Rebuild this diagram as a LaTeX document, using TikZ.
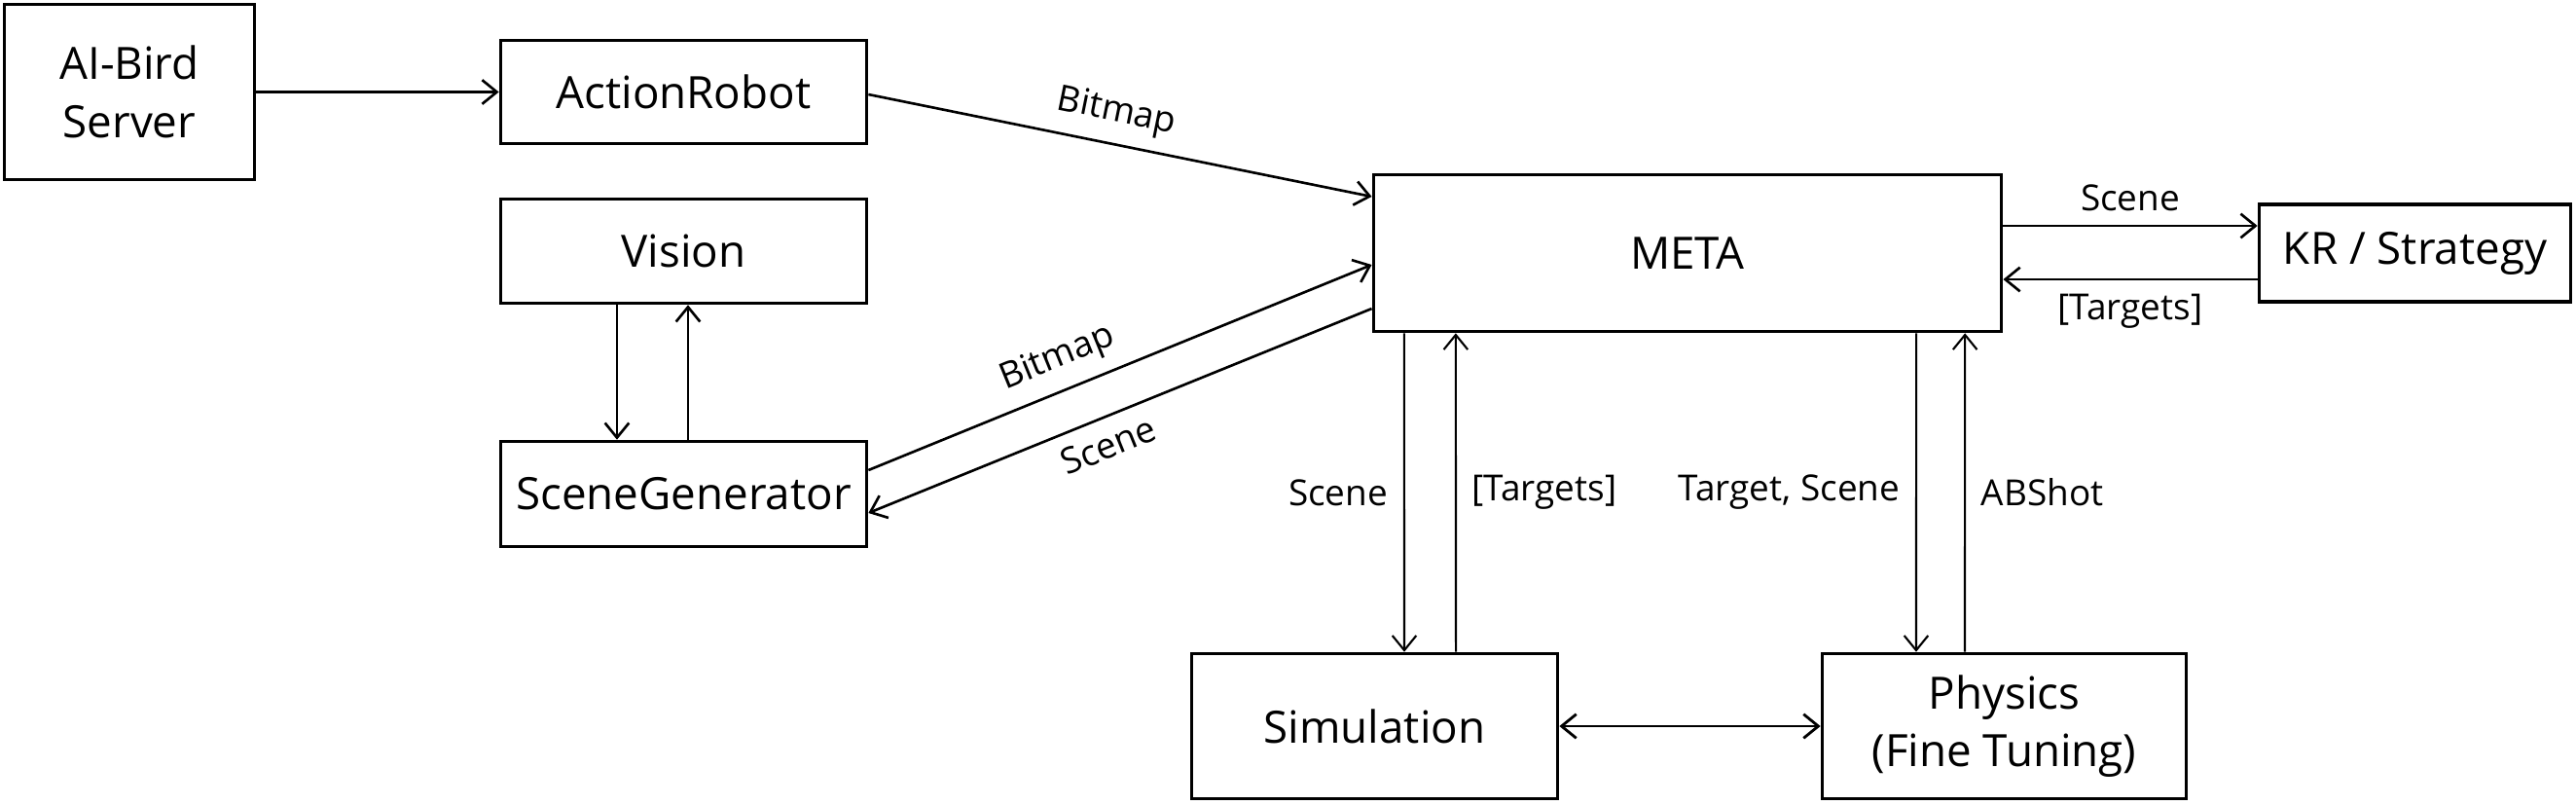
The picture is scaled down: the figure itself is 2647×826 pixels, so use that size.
\documentclass[tikz,border=0pt]{standalone}
\usepackage{fontspec}
\setmainfont{Open Sans}
\usetikzlibrary{arrows.meta}

\tikzset{
  module/.style={draw, line width=1pt, inner sep=0pt, align=center,
    font=\fontsize{13}{17}\selectfont},
  flow/.style={line width=0.75pt, -{Straight Barb[length=4.3pt,width=7pt]}},
  twoway/.style={line width=0.8pt,
    {Straight Barb[length=4.3pt,width=7pt]}-{Straight Barb[length=4.3pt,width=7pt]}},
  tag/.style={font=\fontsize{10.5}{12}\selectfont, inner sep=0pt},
}

\begin{document}
\begin{tikzpicture}[x=0.01cm, y=-0.01cm]
        \useasboundingbox (0,0) rectangle (2647,826);

        % modules
        \node[module, minimum width=2.57cm, minimum height=1.80cm] (server) at (133,94.5) {AI-Bird\\Server};
        \node[module, minimum width=3.76cm, minimum height=1.06cm] (robot) at (702.5,94.5) {ActionRobot};
        \node[module, minimum width=3.76cm, minimum height=1.07cm] (vision) at (702.5,258) {Vision};
        \node[module, minimum width=3.76cm, minimum height=1.08cm] (scenegen) at (702.5,507.5) {SceneGenerator};
        \node[module, minimum width=6.45cm, minimum height=1.61cm] (meta) at (1734,260) {META};
        \node[module, minimum width=3.20cm, minimum height=1.00cm] (kr) at (2481.5,260) {KR / Strategy};
        \node[module, minimum width=3.76cm, minimum height=1.49cm] (sim) at (1412.5,746) {Simulation};
        \node[module, minimum width=3.74cm, minimum height=1.49cm] (phys) at (2059.5,746) {Physics\\(Fine Tuning)};

        % left side
        \draw[flow] (server) -- (robot);
        \draw[flow] ([yshift=-0.025cm]robot.east) -- node[tag, sloped, above=3.8pt, pos=0.48] {Bitmap} ([yshift=0.58cm]meta.west);
        \draw[flow] ([yshift=0.245cm]scenegen.east) -- node[tag, sloped, above=3.8pt, pos=0.4] {Bitmap} ([yshift=-0.12cm]meta.west);
        \draw[flow] ([yshift=-0.57cm]meta.west) -- node[tag, sloped, below=3.8pt, pos=0.544] {Scene} ([yshift=-0.195cm]scenegen.east);
        \draw[flow] ([xshift=-0.685cm]vision.south) -- ([xshift=-0.685cm]scenegen.north);
        \draw[flow] ([xshift=0.045cm]scenegen.north) -- ([xshift=0.045cm]vision.south);

        % KR / Strategy
        \draw[flow] ([yshift=0.28cm]meta.east) -- node[tag, above=3.8pt] {Scene} ([yshift=0.28cm]kr.west);
        \draw[flow] ([yshift=-0.27cm]kr.west) -- node[tag, below=3.8pt] {[Targets]} ([yshift=-0.27cm]meta.east);

        % simulation and physics
        \draw[flow, line width=0.6pt] ([xshift=-2.91cm]meta.south) -- node[tag, left=4.5pt] {Scene} ([xshift=0.305cm]sim.north);
        \draw[flow, line width=0.6pt] ([xshift=0.835cm]sim.north) -- node[tag, right=4.5pt] {[Targets]} ([xshift=-2.38cm]meta.south);
        \draw[flow, line width=0.6pt] ([xshift=2.35cm]meta.south) -- node[tag, left=4.5pt] {Target, Scene} ([xshift=-0.905cm]phys.north);
        \draw[flow, line width=0.6pt] ([xshift=-0.405cm]phys.north) -- node[tag, right=4.5pt] {ABShot} ([xshift=2.85cm]meta.south);
        \draw[twoway] (sim) -- (phys);
\end{tikzpicture}
\end{document}
